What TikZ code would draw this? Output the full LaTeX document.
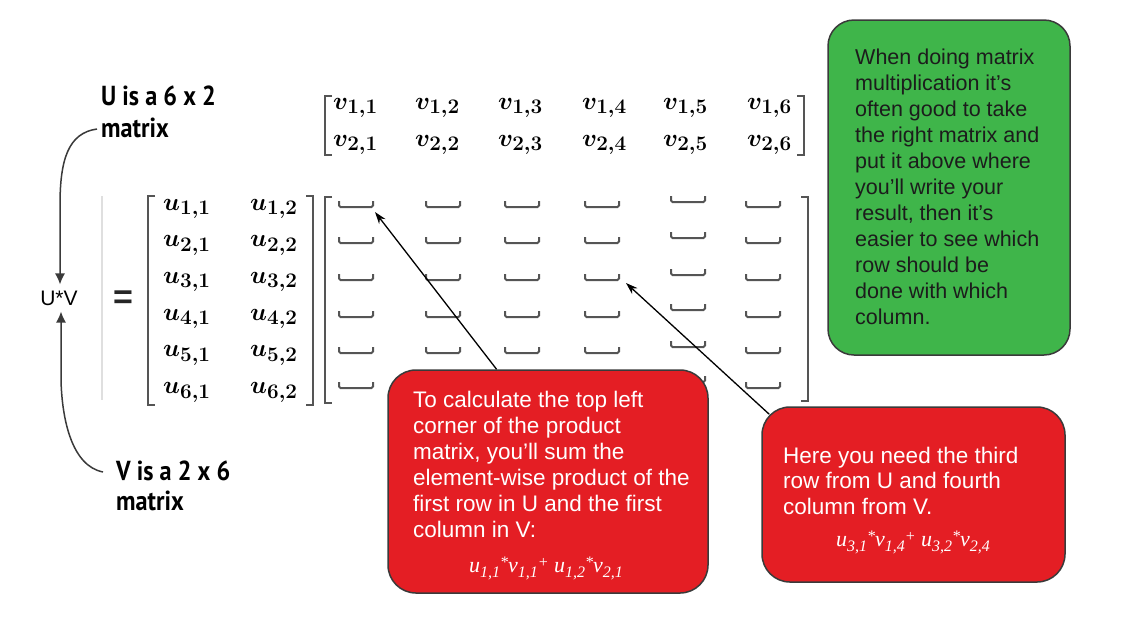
\documentclass[tikz,border=0pt]{standalone}
\usepackage{fontspec}
\usetikzlibrary{arrows.meta,calc}
\newfontfamily\arialf{Liberation Sans}
\newfontfamily\labf[FakeStretch=0.88]{PT Sans}
\newfontfamily\tnrf{Liberation Serif}
\definecolor{boxred}{HTML}{E41E24}
\definecolor{boxgreen}{HTML}{3FB54A}
\definecolor{brk}{HTML}{555555}
\definecolor{edgec}{HTML}{3A3A3A}
\definecolor{gtext}{HTML}{1C1C1C}
\DeclareMathSizes{30}{30}{22}{17}
\newcommand{\me}[1]{{\boldmath$#1$}}
\newcommand{\fsb}[1]{\raisebox{-5pt}{\fontsize{16}{16}\selectfont #1}}
\newcommand{\fsp}[1]{\raisebox{5pt}{\fontsize{16}{16}\selectfont #1}}
\begin{document}
\begin{tikzpicture}[x=1pt,y=-1pt,
  mathent/.style={font=\fontsize{30}{30}\selectfont, inner sep=0pt, anchor=base west},
  brkline/.style={draw=brk, line width=2pt},
  blankmark/.style={draw=brk, line width=2pt, rounded corners=1.5pt},
  lab/.style={font=\labf\bfseries\fontsize{27.5}{32}\selectfont, align=left, inner sep=0pt, anchor=base west},
  boxtext/.style={font=\arialf\fontsize{22.5}{26}\selectfont, align=left, inner sep=0pt, anchor=base west},
  redbox/.style={draw=edgec, line width=1.5pt, fill=boxred, rounded corners=28pt},
  greenbox/.style={draw=edgec, line width=1.5pt, fill=boxgreen, rounded corners=26pt},
  formula/.style={font=\tnrf\itshape\fontsize{22}{22}\selectfont, text=white, inner sep=0pt, anchor=base},
  ptr/.style={-{Stealth[length=12pt,width=8pt]}, line width=1.3pt, black},
  curvearrow/.style={-{Latex[length=11pt,width=10pt]}, line width=1.5pt, draw=edgec},
]
\useasboundingbox (0,0) rectangle (1142,625);

% faint left line
\draw[gray!25, line width=2pt] (102,196) -- (102,400);

% U*V and equals
\node[font=\arialf\fontsize{21}{21}\selectfont, inner sep=0pt] (uv) at (59,298) {U*V};
\node[font=\arialf\bfseries\fontsize{34}{34}\selectfont, text=black!85, inner sep=0pt] (eq) at (123,300) {=};

% labels (base anchor = baseline of last line)
\node[lab] (ulab) at (101,137) {U is a 6 x 2\\matrix};
\node[lab, font=\labf\bfseries\fontsize{27.5}{30}\selectfont] (vlab) at (116,510) {V is a 2 x 6\\matrix};

% U matrix
\foreach \r in {1,...,6} {
  \pgfmathsetmacro{\yy}{210+36.7*(\r-1)}
  \node[mathent] (u-\r-1) at (163,\yy) {\me{u_{\r,1}}};
  \node[mathent] (u-\r-2) at (250,\yy) {\me{u_{\r,2}}};
}
\draw[brkline] (155,196) -- (148,196) -- (148,405) -- (155,405);
\draw[brkline] (306,196) -- (313,196) -- (313,405) -- (306,405);

% V matrix
\foreach \c/\xx in {1/333,2/415,3/498,4/582,5/663,6/747} {
  \node[mathent] (v-1-\c) at (\xx,109) {\me{v_{1,\c}}};
  \node[mathent] (v-2-\c) at (\xx,146) {\me{v_{2,\c}}};
}
\draw[brkline] (332,96) -- (325,96) -- (325,155) -- (332,155);
\draw[brkline] (797,96) -- (804,96) -- (804,155) -- (797,155);

% result matrix
\draw[brkline] (332,197) -- (325,197) -- (325,403) -- (332,403);
\draw[brkline] (801,197) -- (808,197) -- (808,401) -- (801,401);
\foreach \xx in {356,443,522,602,763} {
  \foreach \yy in {207,243,280,317,353,388} {
    \draw[blankmark] (\xx-17,\yy-6) -- (\xx-17,\yy) -- (\xx+17,\yy) -- (\xx+17,\yy-6);
  }
}
\foreach \yy in {202,238,275,310,347,382} {
  \draw[blankmark] (688-17,\yy-6) -- (688-17,\yy) -- (688+17,\yy) -- (688+17,\yy-6);
}

% curved arrows to U*V
\coordinate (ua) at (97,129);
\coordinate (va) at (103,472);
\draw[curvearrow] (ua) .. controls (68,133) and (60,160) .. (60,205) -- ($(uv.north)+(1,-6)$);
\draw[curvearrow] (va) .. controls (72,466) and (62,420) .. (61,380) -- ($(uv.south)+(2,6)$);

% callout boxes
\node[greenbox, minimum width=242pt, minimum height=335pt] (g) at (949,187.5) {};
\node[boxtext, font=\arialf\fontsize{21.5}{26}\selectfont, text=gtext] (gtxt) at (855,324) {When doing matrix\\multiplication it’s\\often good to take\\the right matrix and\\put it above where\\you’ll write your\\result, then it’s\\easier to see which\\row should be\\done with which\\column.};

\node[redbox, minimum width=320pt, minimum height=223pt] (r1) at (548,481.5) {};
\node[boxtext, text=white] (r1txt) at (413,537) {To calculate the top left\\corner of the product\\matrix, you’ll sum the\\element-wise product of the\\first row in U and the first\\column in V:};
\node[formula] (f1) at (546,572) {u\fsb{1,1}\fsp{*}v\fsb{1,1}\fsp{+} u\fsb{1,2}\fsp{*}v\fsb{2,1}};

\node[redbox, minimum width=303pt, minimum height=175pt] (r2) at (913.5,494.5) {};
\node[boxtext, font=\arialf\fontsize{22.5}{25.5}\selectfont, text=white] (r2txt) at (783,514) {Here you need the third\\row from U and fourth\\column from V.};
\node[formula] (f2) at (913,546) {u\fsb{3,1}\fsp{*}v\fsb{1,4}\fsp{+} u\fsb{3,2}\fsp{*}v\fsb{2,4}};

% pointer arrows
\coordinate (t1) at (375,212);
\coordinate (t2) at (626,283);
\draw[ptr] ($(r1.north west)!0.34!(r1.north east)$) -- (t1);
\draw[ptr] ($(r2.north west)+(8,8)$) -- (t2);
\end{tikzpicture}
\end{document}
